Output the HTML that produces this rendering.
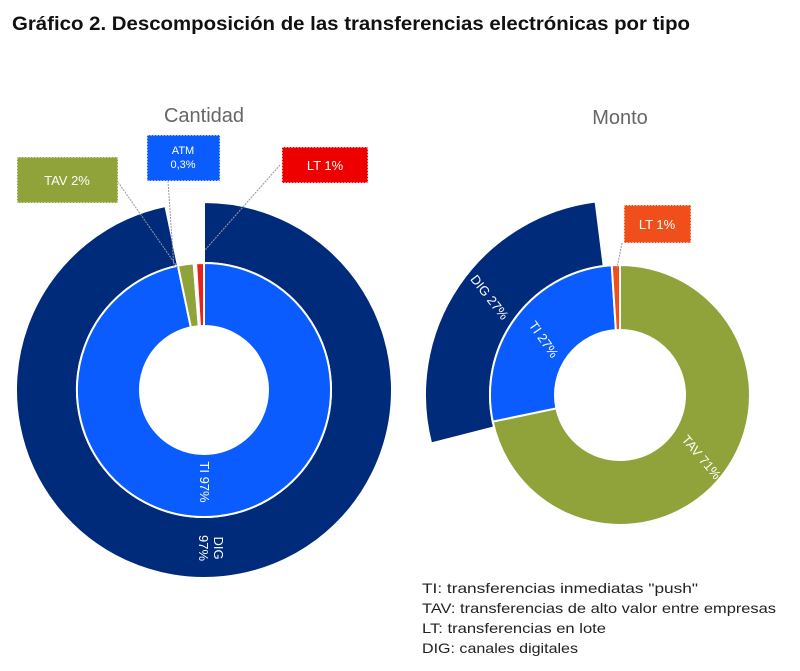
<!DOCTYPE html>
<html><head><meta charset="utf-8"><style>
body{margin:0;background:#fff;width:800px;height:666px;overflow:hidden;font-family:"Liberation Sans",sans-serif}
</style></head><body>
<svg width="800" height="666" xmlns="http://www.w3.org/2000/svg" font-family="Liberation Sans, sans-serif">
<text x="12" y="30" font-size="19" font-weight="bold" fill="#111" textLength="678" lengthAdjust="spacingAndGlyphs">Gráfico 2. Descomposición de las transferencias electrónicas por tipo</text>
<text x="204" y="122" font-size="20" fill="#666" text-anchor="middle">Cantidad</text>
<text x="620" y="124" font-size="20" fill="#666" text-anchor="middle">Monto</text>
<g id="marks"></g>
<g font-size="14" fill="#222">
<text x="422" y="593" textLength="276" lengthAdjust="spacingAndGlyphs">TI: transferencias inmediatas "push"</text>
<text x="422" y="613" textLength="354" lengthAdjust="spacingAndGlyphs">TAV: transferencias de alto valor entre empresas</text>
<text x="422" y="633" textLength="184" lengthAdjust="spacingAndGlyphs">LT: transferencias en lote</text>
<text x="422" y="653" textLength="156" lengthAdjust="spacingAndGlyphs">DIG: canales digitales</text>
</g>
</svg>
<script>
const cantInnerLabels=["TI","TAV","ATM","LT"];
const cantInnerValues=[97,2,0.3,1];
const cantOuterLabels=["DIG","OTROS"];
const cantOuterValues=[97,3.3];
const montoInnerLabels=["TAV","TI","LT"];
const montoInnerValues=[71,27,1];
const montoOuterLabels=["GAP","DIG"];
const montoOuterValues=[71,27];
const montoOuterTotal=100;
const colors={TI:"#0a5cff",TAV:"#8fa33a",ATM:"#ffffff",LT:"#e8211d",DIG:"#002a7a",OTROS:"none",GAP:"none"};
const NS="http://www.w3.org/2000/svg";
const g=document.getElementById('marks');
function pt(cx,cy,r,a){const t=a*Math.PI/180;return [cx+r*Math.sin(t),cy-r*Math.cos(t)];}
function arc(cx,cy,r0,r1,a0,a1){
 const l=(a1-a0)>180?1:0;const p1=pt(cx,cy,r1,a0),p2=pt(cx,cy,r1,a1),p3=pt(cx,cy,r0,a1),p4=pt(cx,cy,r0,a0);
 return `M${p1}A${r1},${r1} 0 ${l} 1 ${p2}L${p3}A${r0},${r0} 0 ${l} 0 ${p4}Z`;}
function ring(cx,cy,r0,r1,labels,values,total,name,col){
 const tot=total||values.reduce((a,b)=>a+b,0);let a=0;
 values.forEach((v,i)=>{const a1=a+v/tot*360;const c=(col||colors)[labels[i]];
  if(c!=="none"){const p=document.createElementNS(NS,'path');p.setAttribute('d',arc(cx,cy,r0,r1,a,a1));p.setAttribute('fill',c);p.setAttribute('stroke','#fff');p.setAttribute('stroke-width','2');
  
  
  g.appendChild(p);}
  a=a1;});}
ring(204,390,127,188,cantOuterLabels,cantOuterValues,null,'cantidad-outer');
ring(204,390,64,127,cantInnerLabels,cantInnerValues,null,'cantidad-inner');
ring(620,395,130,195,montoOuterLabels,montoOuterValues,montoOuterTotal,'monto-outer');
ring(620,395,65,130,montoInnerLabels,montoInnerValues,null,'monto-inner',Object.assign({},colors,{LT:"#f04e1a"}));
</script>
<svg width="800" height="666" style="position:absolute;left:0;top:0" font-family="Liberation Sans, sans-serif">
<g stroke="#999" stroke-width="1" stroke-dasharray="2,1" fill="none">
<line x1="118" y1="182" x2="178" y2="268"/><line x1="168" y1="181" x2="174" y2="268"/><line x1="280" y1="165" x2="205" y2="250"/><line x1="622" y1="243" x2="617" y2="268"/>
</g>
<rect x="17" y="157" width="101" height="46" fill="#8fa33a" stroke="#fff" stroke-dasharray="2,1"/>
<text x="67" y="185" font-size="13" fill="#fff" text-anchor="middle">TAV 2%</text>
<rect x="147" y="135" width="73" height="46" fill="#0a5cff" stroke="#fff" stroke-dasharray="2,1"/>
<text x="183" y="154" font-size="11" fill="#fff" text-anchor="middle">ATM</text>
<text x="183" y="168" font-size="11" fill="#fff" text-anchor="middle">0,3%</text>
<rect x="282" y="147" width="86" height="36" fill="#ee0000" stroke="#fff" stroke-dasharray="2,1"/>
<text x="325" y="170" font-size="13" fill="#fff" text-anchor="middle">LT 1%</text>
<rect x="624" y="205" width="67" height="38" fill="#f04e1a" stroke="#fff" stroke-dasharray="2,1"/>
<text x="657" y="229" font-size="13" fill="#fff" text-anchor="middle">LT 1%</text>
<g font-size="13" fill="#fff" text-anchor="middle">
<text transform="translate(200,482) rotate(90)">TI 97%</text>
<text transform="translate(214,548) rotate(90)">DIG</text>
<text transform="translate(199,548) rotate(90)">97%</text>
<text transform="translate(486,300) rotate(52)">DIG 27%</text>
<text transform="translate(540,342) rotate(55)">TI 27%</text>
<text transform="translate(698,460) rotate(50)">TAV 71%</text>
</g>
</svg>
</body></html>
